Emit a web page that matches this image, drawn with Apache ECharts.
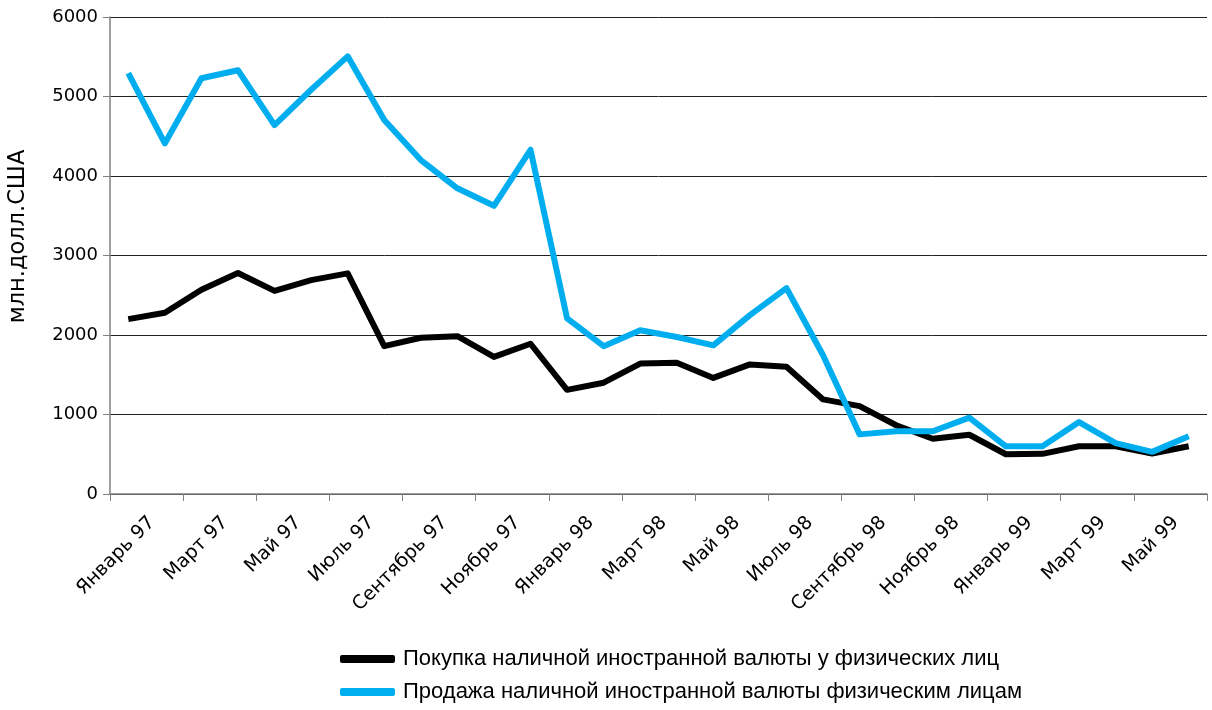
<!DOCTYPE html>
<html>
<head>
<meta charset="utf-8">
<script src="https://cdn.jsdelivr.net/npm/echarts@6/dist/echarts.min.js"></script>
<style>html,body{margin:0;padding:0;background:#fff}#c{width:1212px;height:710px}</style>
</head>
<body>
<div id="c"></div>
<script>
const categories = [
  'Январь 97','Февраль 97','Март 97','Апрель 97','Май 97','Июнь 97','Июль 97','Август 97','Сентябрь 97','Октябрь 97','Ноябрь 97','Декабрь 97',
  'Январь 98','Февраль 98','Март 98','Апрель 98','Май 98','Июнь 98','Июль 98','Август 98','Сентябрь 98','Октябрь 98','Ноябрь 98','Декабрь 98',
  'Январь 99','Февраль 99','Март 99','Апрель 99','Май 99','Июнь 99'
];
const purchase = [2200,2280,2570,2780,2555,2690,2775,1860,1965,1985,1725,1890,1310,1400,1640,1650,1460,1630,1600,1190,1105,865,695,745,500,505,600,600,510,600];
const sale = [5295,4410,5230,5330,4640,5085,5505,4705,4200,3845,3625,4330,2210,1860,2060,1975,1870,2250,2590,1745,750,790,790,960,600,600,905,640,530,725];
const seriesNames = ['Покупка наличной иностранной валюты у физических лиц','Продажа наличной иностранной валюты физическим лицам'];
const yTicks = {min:0, max:6000, interval:1000};
const yName = 'млн.долл.США';

const chart = echarts.init(document.getElementById('c'), null, {renderer:'canvas'});
const axisFont = 'DejaVu Sans, sans-serif';
const legendFont = 'Liberation Sans, Arial, sans-serif';
chart.setOption({
  animation:false,
  backgroundColor:'#fff',
  grid:{left:110, right:5, top:17, bottom:216, containLabel:false, outerBoundsMode:'none'},
  legend:{
    orient:'vertical', left:335, top:643, itemWidth:55, itemHeight:8, itemGap:11,
    textStyle:{fontFamily:legendFont, fontSize:22, color:'#000', padding:[0,0,0,3]},
    data:[
      {name:seriesNames[0], icon:'roundRect', itemStyle:{color:'#000'}},
      {name:seriesNames[1], icon:'roundRect', itemStyle:{color:'#00aeef'}}
    ]
  },
  xAxis:{
    type:'category', data:categories, boundaryGap:true,
    axisLine:{lineStyle:{color:'#808080', width:1.5}},
    axisTick:{show:true, interval:1, length:7, lineStyle:{color:'#808080'}},
    axisLabel:{interval:1, rotate:45, margin:2, fontFamily:axisFont, fontSize:19, color:'#000', verticalAlign:'top', padding:[24,0,0,0]},
    splitLine:{show:false}
  },
  yAxis:{
    type:'value', min:yTicks.min, max:yTicks.max, interval:yTicks.interval,
    name:yName, nameLocation:'middle', nameGap:80, nameRotate:90,
    nameTextStyle:{fontFamily:axisFont, fontSize:22.5, color:'#000', padding:[0,0,0,38]},
    axisLine:{show:true, lineStyle:{color:'#808080', width:1.5}},
    axisTick:{show:true, length:7, lineStyle:{color:'#808080'}},
    axisLabel:{fontFamily:axisFont, fontSize:18, color:'#000', margin:12, formatter:function(v){return String(v);}},
    splitLine:{show:true, lineStyle:{color:'#222', width:1}}
  },
  series:[
    {name:seriesNames[0], type:'line', data:purchase, symbol:'none', lineStyle:{color:'#000', width:6, join:'round'}, itemStyle:{color:'#000'}},
    {name:seriesNames[1], type:'line', data:sale, symbol:'none', lineStyle:{color:'#00aeef', width:6, join:'round'}, itemStyle:{color:'#00aeef'}}
  ]
});
</script>
</body>
</html>
